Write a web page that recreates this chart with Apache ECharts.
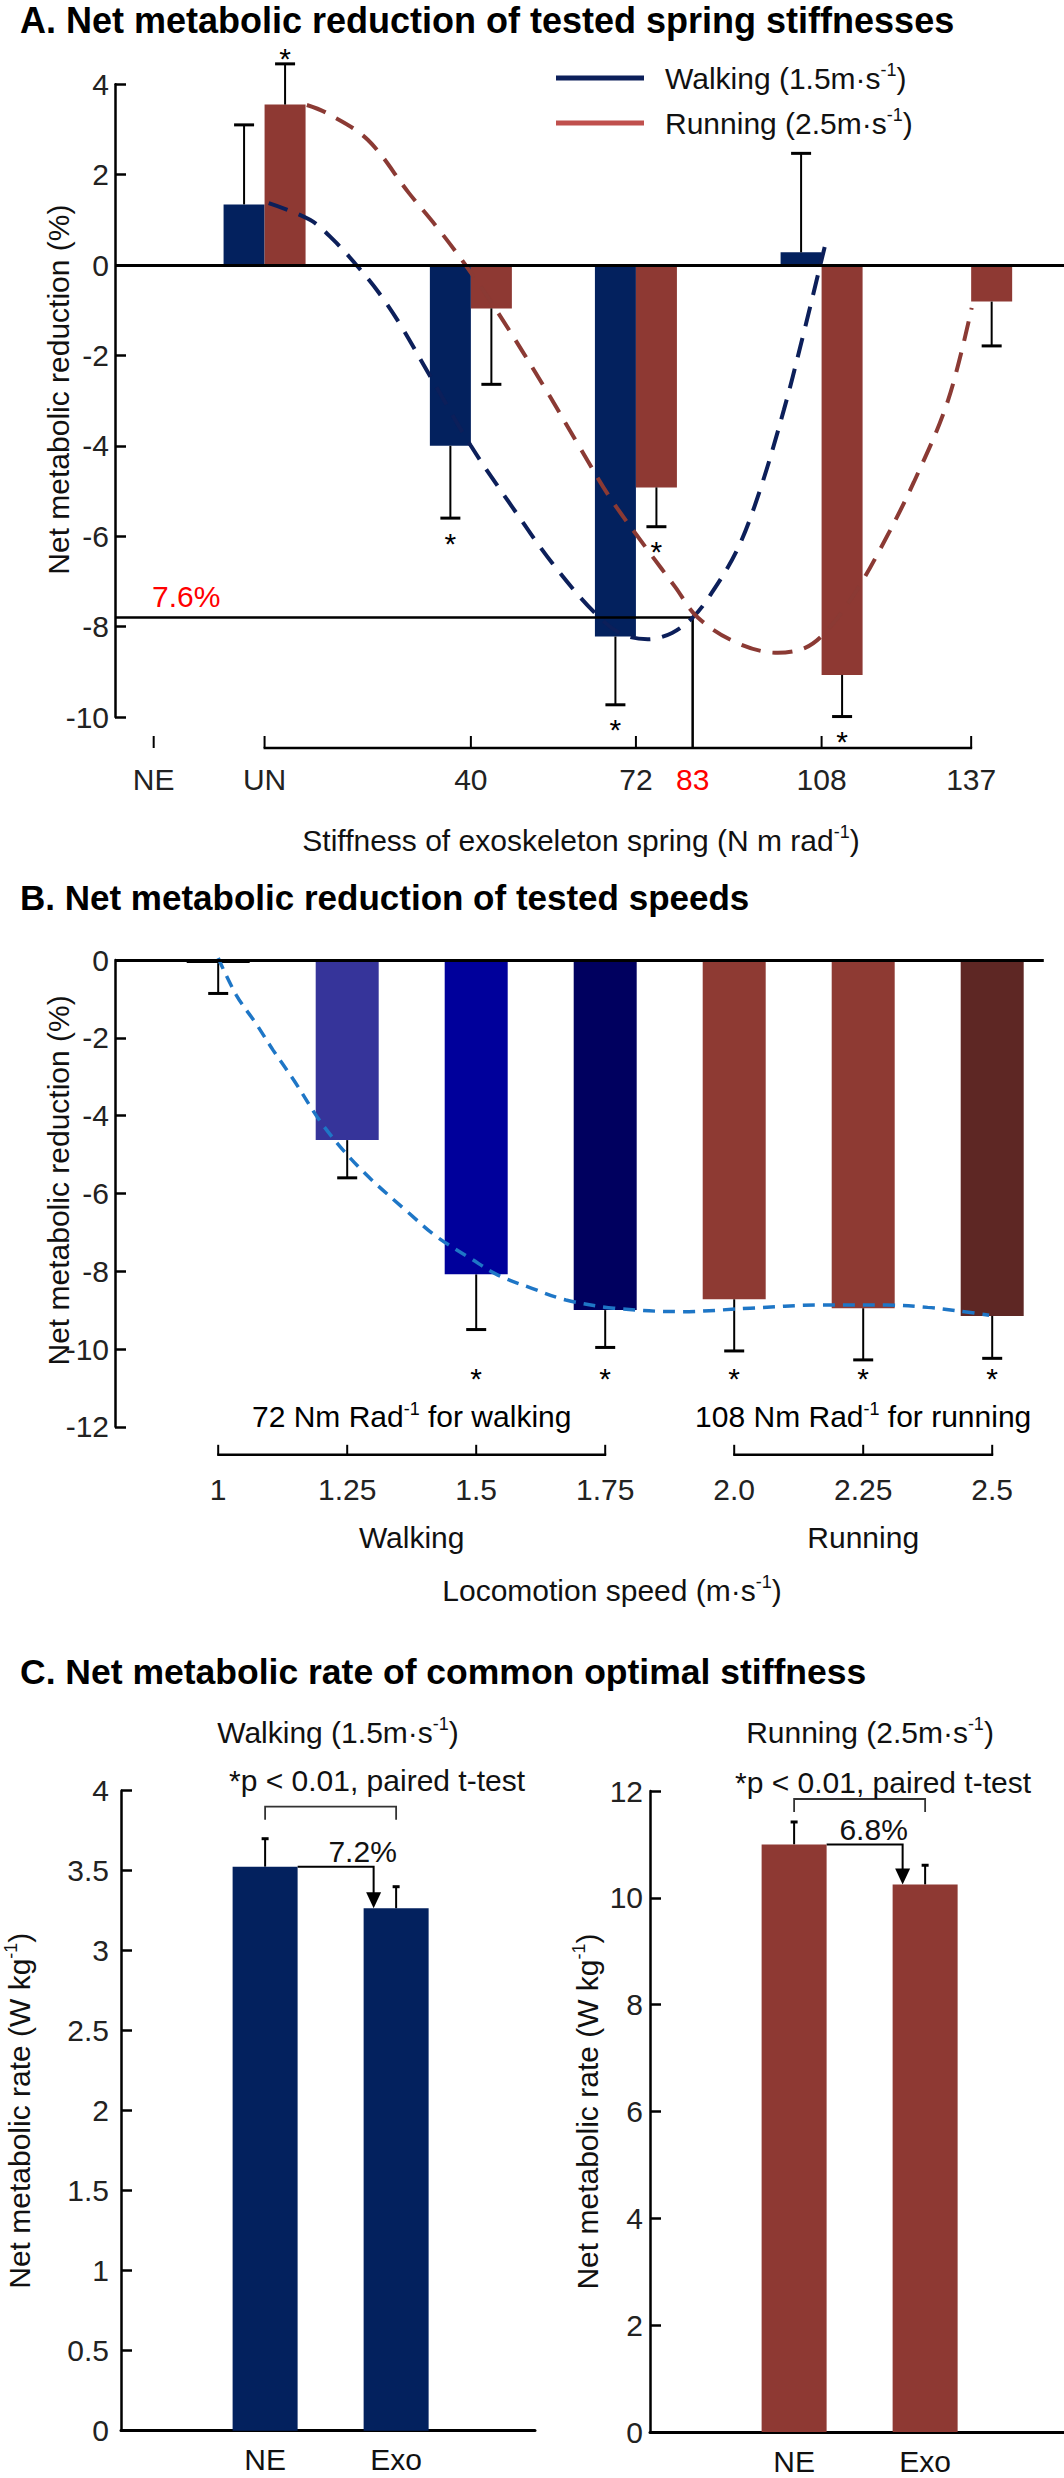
<!DOCTYPE html>
<html><head><meta charset="utf-8">
<script src="https://cdn.jsdelivr.net/npm/echarts@6/dist/echarts.min.js"></script>
<style>html,body{margin:0;padding:0;background:#fff}#c{width:1064px;height:2478px}</style>
</head><body><div id="c"></div>
<script>
// ---------------- Panel A data ----------------
const stiffTicksA = [-21.5, 0, 40, 72, 83, 108, 137];
const stiffTickLabelsA = ['NE', 'UN', '40', '72', '83', '108', '137'];
const walkStiff = [0, 40, 72, 108];
const walkMean = [1.34, -4.00, -8.22, 0.28];
const walkErr = [3.10, -5.60, -9.73, 2.47];
const walkSig = [false, true, true, false];
const runStiff = [0, 40, 72, 108, 137];
const runMean = [3.55, -0.96, -4.92, -9.07, -0.81];
const runErr = [4.45, -2.64, -5.79, -9.99, -1.79];
const runSig = [true, false, true, true, false];
const walkFit = [[0.8,1.37],[8.8,1.0],[13.4,0.55],[18.1,-0.04],[22.2,-0.62],[26.1,-1.28],[32.2,-2.48],[40,-4.0],[48,-5.35],[55.8,-6.6],[63.8,-7.67],[69,-8.15],[74.3,-8.28],[79,-8.14],[83,-7.8],[86.2,-7.34],[91.6,-6.31],[96,-5.0],[100.7,-3.2],[104,-1.75],[108.6,0.4]];
const runFit = [[8.2,3.54],[12.1,3.36],[20,2.77],[28,1.59],[33.4,0.84],[38.7,0.04],[45.3,-1.06],[54.6,-2.77],[61.2,-4.05],[67,-5.15],[74.3,-6.31],[79.6,-7.12],[84,-7.8],[91.6,-8.36],[99.5,-8.58],[104.8,-8.47],[108.6,-8.14],[114,-7.34],[119.3,-6.3],[125.9,-4.8],[132.5,-3.0],[137.1,-0.95]];
const optStiff = 83;
const optReduction = -7.8;
const optLabel = '7.6%';

// ---------------- Panel B data ----------------
const speedsB = [1, 1.25, 1.5, 1.75, 2.0, 2.25, 2.5];
const speedLabelsB = ['1', '1.25', '1.5', '1.75', '2.0', '2.25', '2.5'];
const meanB = [-0.08, -4.63, -8.08, -9.00, -8.72, -8.95, -9.15];
const errEndB = [-0.86, -5.60, -9.50, -9.96, -10.05, -10.28, -10.24];
const sigB = [false, false, true, true, true, true, true];
const gaitOfSpeedB = [0, 0, 0, 0, 1, 1, 1];
const gaitNamesB = ['Walking', 'Running'];
const gaitStiffB = ['72', '108'];
const gaitWordB = ['walking', 'running'];
const fitB = [[1.0,0.05],[1.035,-0.9],[1.073,-1.63],[1.106,-2.31],[1.146,-3.08],[1.205,-4.28],[1.278,-5.4],[1.37,-6.51],[1.423,-7.11],[1.489,-7.67],[1.542,-8.1],[1.608,-8.44],[1.674,-8.74],[1.767,-8.95],[1.899,-9.04],[2.031,-8.95],[2.164,-8.87],[2.296,-8.87],[2.375,-8.93],[2.428,-9.01],[2.494,-9.13]];

// ---------------- Panel C data ----------------
const condC = ['NE', 'Exo'];
const walkRateC = [3.525, 3.265];
const walkRateErrC = [3.70, 3.40];
const runRateC = [11.0, 10.25];
const runRateErrC = [11.42, 10.61];
const pctC = ['7.2%', '6.8%'];

// ---------------- styles ----------------
const FONT = '"Liberation Sans", Arial, Helvetica, sans-serif';
const INK = '#111';
const WALK_BAR = '#03215E', RUN_BAR = '#8E3933';
const WALK_CURVE = '#0C1F5A', RUN_CURVE = '#8B3A34', LEG_RUN = '#C0504D';
const COLORS_B = ['#000000', '#36349A', '#00009B', '#00005F', '#8E3A33', '#8E3A33', '#5E2724'];
const FIT_B = '#1E76C6';
const rich = {
  t: {fontSize: 30, fontFamily: FONT, color: INK, lineHeight: 34},
  f: {fontSize: 30, fontFamily: FONT, color: INK, lineHeight: 34, padding: [0, 0, 0, 16]},
  s: {fontSize: 18, fontFamily: FONT, color: INK, verticalAlign: 'top', lineHeight: 20}
};
const sup = (a, b, c) => `{t|${a}}{s|${b}}{t|${c}}`;

function txt(x, y, text, opts) {
  return {type: 'text', x: x, y: y, style: Object.assign({text: text, fontSize: 30, fontFamily: FONT, fill: INK, align: 'center', verticalAlign: 'middle'}, opts || {})};
}
function seg(x1, y1, x2, y2, w, c) {
  return {type: 'line', shape: {x1, y1, x2, y2}, style: {stroke: c || '#000', lineWidth: w}};
}

// ---- Panel A renderers ----
const yMinA = -10;
function barsA(side, color) {
  return function (params, api) {
    const k = api.value(0), m = api.value(1), e = api.value(2), sig = api.value(3);
    const p0 = api.coord([k, 0]), pm = api.coord([k, m]), pe = api.coord([k, e]);
    const W = 41;
    const x = side < 0 ? p0[0] - W : p0[0];
    const cx = x + W / 2;
    const ch = [
      {type: 'rect', shape: {x: x, y: Math.min(p0[1], pm[1]), width: W, height: Math.abs(pm[1] - p0[1])}, style: {fill: color}},
      seg(cx, pm[1], cx, pe[1], 2),
      seg(cx - 10, pe[1], cx + 10, pe[1], 3)
    ];
    if (sig) {
      const below = e < m;
      ch.push(txt(cx, below ? pe[1] + 25 : pe[1] - 5, '*', {fill: '#000'}));
    }
    return {type: 'group', children: ch};
  };
}
function axisA(params, api) {
  const k = api.value(0), i = api.value(1);
  const px = api.coord([k, 0])[0];
  const base = api.coord([k, yMinA])[1] + 31;
  const ch = [];
  if (k !== optStiff) ch.push(seg(px, base - 12, px, base, 2));
  ch.push(txt(px, base + 31, stiffTickLabelsA[i], {fill: k === optStiff ? '#FF0000' : '#222'}));
  return {type: 'group', children: ch};
}
function bracketA(params, api) {
  const a = api.coord([api.value(0), yMinA]), b = api.coord([api.value(1), yMinA]);
  const base = a[1] + 31;
  return seg(a[0] - 1, base, b[0] + 1, base, 2.5);
}
function guideA(params, api) {
  const p = api.coord([api.value(0), api.value(1)]);
  const base = api.coord([api.value(0), yMinA])[1] + 31;
  const left = params.coordSys.x;
  return {type: 'group', children: [
    {type: 'polyline', shape: {points: [[left, p[1]], [p[0], p[1]], [p[0], base]]}, style: {stroke: '#000', lineWidth: 2.5, fill: null}},
    txt(left + 37, p[1] - 21, optLabel, {fill: '#FF0000', align: 'left'})
  ]};
}

// ---- Panel B renderers ----
const yMinB = -12;
function errRenderB(params, api) {
  const s = api.value(0), m = api.value(1), e = api.value(2), sig = api.value(3);
  const pm = api.coord([s, m]), pe = api.coord([s, e]);
  const ch = [seg(pm[0], pm[1], pe[0], pe[1], 2), seg(pe[0] - 10, pe[1], pe[0] + 10, pe[1], 3)];
  if (sig) ch.push(txt(pm[0], api.coord([s, -10])[1] + 29, '*', {fill: '#000'}));
  return {type: 'group', children: ch};
}
function axisB(params, api) {
  const g = api.value(0);
  const idx = speedsB.map((s, i) => i).filter(i => gaitOfSpeedB[i] === g);
  const xs = idx.map(i => api.coord([speedsB[i], 0])[0]);
  const base = api.coord([speedsB[idx[0]], yMinB])[1] + 28;
  const mid = (xs[0] + xs[xs.length - 1]) / 2;
  const ch = [seg(xs[0] - 1, base, xs[xs.length - 1] + 1, base, 2.5)];
  xs.forEach((x, j) => {
    ch.push(seg(x, base - 10, x, base, 2));
    ch.push(txt(x, base + 35, speedLabelsB[idx[j]], {fill: '#222'}));
  });
  ch.push(txt(mid, base + 83, gaitNamesB[g]));
  ch.push({type: 'text', x: mid, y: base - 38, style: {
    text: `{t|${gaitStiffB[g]} Nm Rad}{s|-1}{t| for ${gaitWordB[g]}}`,
    rich: {t: Object.assign({}, rich.t, {color: '#0B0B3B'}), s: Object.assign({}, rich.s, {color: '#0B0B3B'})},
    align: 'center', verticalAlign: 'middle'}});
  return {type: 'group', children: ch};
}

// ---- Panel C renderer ----
function annC(means, bracketTop, pct, pctDx) {
  return function (params, api) {
    const i = params.dataIndex;
    const x = api.value(0);
    const p0 = api.coord([x, 0]), pm = api.coord([x, api.value(1)]), pe = api.coord([x, api.value(2)]);
    const ch = [
      seg(pm[0], pm[1], pe[0], pe[1], 2),
      seg(pe[0] - 3.5, pe[1], pe[0] + 3.5, pe[1], 3),
      txt(p0[0], p0[1] + 29, condC[i])
    ];
    if (i === 0) {
      const x1 = p0[0], x2 = api.coord([2, 0])[0];
      const y0 = api.coord([1, means[0]])[1], y1 = api.coord([2, means[1]])[1];
      const yt = api.coord([1, bracketTop])[1];
      const xs = x1 + 32.5, xa = x2 - 22.5;
      ch.push({type: 'polyline', shape: {points: [[x1, yt + 13], [x1, yt], [x2, yt], [x2, yt + 13]]}, style: {stroke: '#333', lineWidth: 1.8, fill: null}});
      ch.push({type: 'polyline', shape: {points: [[xs, y0], [xa, y0], [xa, y1 - 14]]}, style: {stroke: '#000', lineWidth: 2, fill: null}});
      ch.push({type: 'polygon', shape: {points: [[xa - 7.5, y1 - 16], [xa + 7.5, y1 - 16], [xa, y1]]}, style: {fill: '#000'}});
      ch.push(txt(xa + pctDx, y0 - 15, pct));
    }
    return {type: 'group', children: ch};
  };
}

const zeroLine = {silent: true, symbol: ['none', 'none'], label: {show: false}, lineStyle: {color: '#000', width: 3, type: 'solid'}, data: [{yAxis: 0}]};

function yAx(grid, min, max, interval, margin, name, nameGap, extra) {
  return Object.assign({
    gridIndex: grid, type: 'value', min: min, max: max, interval: interval,
    axisLine: {show: true, onZero: false, lineStyle: {color: '#000', width: 2.5}},
    axisTick: {show: true, inside: true, length: 11, lineStyle: {color: '#000', width: 2.5}},
    axisLabel: {fontSize: 30, color: '#222', margin: margin, fontFamily: FONT},
    splitLine: {show: false},
    name: name, nameLocation: 'middle', nameGap: nameGap, nameRotate: 90, nameMoveOverlap: false,
    nameTextStyle: {fontSize: 30, color: INK, fontFamily: FONT, rich: rich}
  }, extra || {});
}
const xHidden = (grid, min, max) => ({gridIndex: grid, type: 'value', min: min, max: max, show: false});
const xC = (grid) => ({gridIndex: grid, type: 'value', min: -0.1, max: 3.06,
  axisLine: {show: true, onZero: true, lineStyle: {color: '#000', width: 3}},
  axisTick: {show: false}, axisLabel: {show: false}, splitLine: {show: false}});

const ttl = (text, left, top, extra) => Object.assign({text: text, left: left, top: top, padding: 0,
  textAlign: 'center', textVerticalAlign: 'middle',
  textStyle: {fontSize: 30, fontFamily: FONT, color: INK, fontWeight: 'normal', rich: rich}}, extra || {});
const boldT = (text, top, size) => ttl(text, 20, top, {textAlign: 'left', textStyle: {fontSize: size, fontWeight: 'bold', fontFamily: FONT, color: '#000'}});

const option = {
  animation: false,
  backgroundColor: '#fff',
  textStyle: {fontFamily: FONT},
  title: [
    boldT('A. Net metabolic reduction of tested spring stiffnesses', 20, 36),
    boldT('B. Net metabolic reduction of tested speeds', 897, 35),
    boldT('C. Net metabolic rate of common optimal stiffness', 1672, 35.5),
    ttl(sup('Stiffness of exoskeleton spring (N m rad', '-1', ')'), 581, 840),
    ttl(sup('Locomotion speed (m·s', '-1', ')'), 612, 1590),
    ttl(sup('Walking (1.5m·s', '-1', ')'), 338, 1732),
    ttl('*p < 0.01, paired t-test', 377, 1780),
    ttl(sup('Running (2.5m·s', '-1', ')'), 870, 1732),
    ttl('*p < 0.01, paired t-test', 883, 1782)
  ],
  legend: {
    orient: 'vertical', left: 556, top: 61, padding: 0, itemGap: 13,
    itemWidth: 88, itemHeight: 5, icon: 'rect', selectedMode: false,
    data: [
      {name: 'Walking', itemStyle: {color: WALK_CURVE, borderWidth: 0}},
      {name: 'Running', itemStyle: {color: LEG_RUN, borderWidth: 0}}
    ],
    formatter: n => n === 'Walking' ? '{f|Walking (1.5m·s}{s|-1}{t|)}' : '{f|Running (2.5m·s}{s|-1}{t|)}',
    textStyle: {fontSize: 30, fontFamily: FONT, color: INK, rich: rich}
  },
  grid: [
    {left: 115, top: 84.2, width: 949, height: 632.8},
    {left: 115, top: 960, width: 928.8, height: 466.8},
    {left: 121, top: 1790.7, width: 414, height: 640},
    {left: 650, top: 1791, width: 414, height: 641}
  ],
  xAxis: [xHidden(0, -29, 155), xHidden(1, 0.8, 2.6), xC(2), xC(3)],
  yAxis: [
    yAx(0, -10, 4, 2, 6, 'Net metabolic reduction (%)', 42, {nameTextStyle: {fontSize: 30, color: INK, fontFamily: FONT, padding: [0, 0, 0, 22]}}),
    yAx(1, -12, 0, 2, 6, 'Net metabolic reduction (%)', 42, {nameTextStyle: {fontSize: 30, color: INK, fontFamily: FONT, padding: [0, 0, 0, 26]}}),
    yAx(2, 0, 4, 0.5, 12, sup('Net metabolic rate (W kg', '-1', ')'), 85),
    yAx(3, 0, 12, 2, 7, sup('Net metabolic rate (W kg', '-1', ')'), 46)
  ],
  series: [
    // Panel A
    {type: 'custom', name: 'walkBarsA', xAxisIndex: 0, yAxisIndex: 0, renderItem: barsA(-1, WALK_BAR),
     data: walkStiff.map((k, i) => [k, walkMean[i], walkErr[i], walkSig[i] ? 1 : 0])},
    {type: 'custom', name: 'runBarsA', xAxisIndex: 0, yAxisIndex: 0, renderItem: barsA(1, RUN_BAR),
     data: runStiff.map((k, i) => [k, runMean[i], runErr[i], runSig[i] ? 1 : 0])},
    {type: 'line', name: 'Walking', xAxisIndex: 0, yAxisIndex: 0, data: walkFit, smooth: 0.35, symbol: 'none', clip: false,
     color: WALK_CURVE, lineStyle: {color: WALK_CURVE, width: 4, type: [20, 12]}, markLine: zeroLine},
    {type: 'line', name: 'Running', xAxisIndex: 0, yAxisIndex: 0, data: runFit, smooth: 0.35, symbol: 'none', clip: false,
     color: RUN_CURVE, lineStyle: {color: RUN_CURVE, width: 4, type: [20, 12]}},
    {type: 'custom', name: 'axisA', xAxisIndex: 0, yAxisIndex: 0, renderItem: axisA, data: stiffTicksA.map((k, i) => [k, i])},
    {type: 'custom', name: 'bracketA', xAxisIndex: 0, yAxisIndex: 0, renderItem: bracketA, data: [[runStiff[0], runStiff[runStiff.length - 1]]]},
    {type: 'custom', name: 'guideA', xAxisIndex: 0, yAxisIndex: 0, renderItem: guideA, data: [[optStiff, optReduction]]},
    // Panel B
    {type: 'bar', name: 'barsB', xAxisIndex: 1, yAxisIndex: 1, barWidth: 63,
     data: speedsB.map((s, i) => ({value: [s, meanB[i]], itemStyle: {color: COLORS_B[i]}})), markLine: zeroLine},
    {type: 'custom', name: 'errB', xAxisIndex: 1, yAxisIndex: 1, renderItem: errRenderB,
     data: speedsB.map((s, i) => [s, meanB[i], errEndB[i], sigB[i] ? 1 : 0])},
    {type: 'line', name: 'fitB', xAxisIndex: 1, yAxisIndex: 1, data: fitB, smooth: 0.35, symbol: 'none', clip: false,
     lineStyle: {color: FIT_B, width: 3.5, type: [12, 8]}},
    {type: 'custom', name: 'axisB', xAxisIndex: 1, yAxisIndex: 1, renderItem: axisB, data: gaitNamesB.map((g, i) => [i, 0])},
    // Panel C
    {type: 'bar', name: 'walkC', xAxisIndex: 2, yAxisIndex: 2, barWidth: 65, itemStyle: {color: WALK_BAR},
     data: condC.map((c, i) => [i + 1, walkRateC[i]])},
    {type: 'custom', name: 'walkAnnC', xAxisIndex: 2, yAxisIndex: 2, renderItem: annC(walkRateC, 3.9, pctC[0], -11),
     data: condC.map((c, i) => [i + 1, walkRateC[i], walkRateErrC[i]])},
    {type: 'bar', name: 'runC', xAxisIndex: 3, yAxisIndex: 3, barWidth: 65, itemStyle: {color: RUN_BAR},
     data: condC.map((c, i) => [i + 1, runRateC[i]])},
    {type: 'custom', name: 'runAnnC', xAxisIndex: 3, yAxisIndex: 3, renderItem: annC(runRateC, 11.85, pctC[1], -29),
     data: condC.map((c, i) => [i + 1, runRateC[i], runRateErrC[i]])}
  ]
};
const chart = echarts.init(document.getElementById('c'), null, {renderer: 'svg', width: 1064, height: 2478});
chart.setOption(option);
</script>
</body></html>
